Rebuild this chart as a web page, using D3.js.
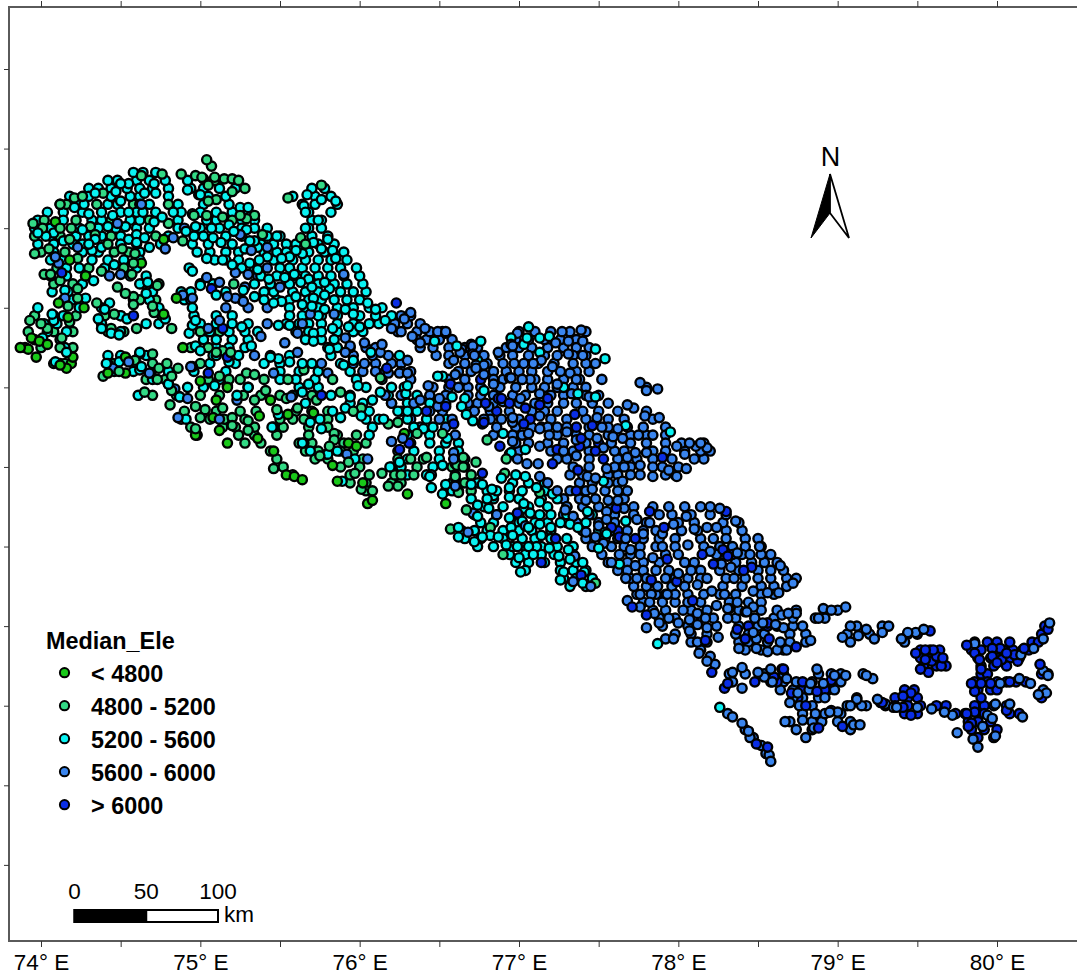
<!DOCTYPE html>
<html>
<head>
<meta charset="utf-8">
<script src="https://cdn.jsdelivr.net/npm/d3@7"></script>
<style>
  html, body { margin: 0; padding: 0; background: #fff; }
  text { font-family: "Liberation Sans", Arial, sans-serif; fill: #000; }
</style>
</head>
<body>
<div class="viz"></div>
<script>
// glacier locations [lon, lat] that sit on top of the pile, one list per class
var below4800 = [[74.09,33.54],[74.28,33.20],[74.63,33.28],[74.77,33.43],[74.18,33.30],[73.92,32.74],[73.87,32.75],[73.97,32.69],[74.04,32.77],[74.20,32.69],[73.94,32.81],[74.11,33.03],[74.17,32.94],[74.27,33.00],[74.85,33.06],[74.77,32.96],[74.53,32.69],[74.53,32.59],[74.42,32.59],[74.89,32.75],[74.16,32.62],[73.99,32.79],[74.12,32.64],[74.19,32.65],[75.00,32.54],[75.17,32.50],[75.10,32.42],[75.08,32.31],[75.12,32.23],[75.36,32.18],[75.46,32.10],[75.44,32.42],[75.55,32.33],[75.71,32.34],[75.37,32.32],[74.97,32.20],[75.17,32.15],[75.54,31.95],[75.64,31.92],[75.59,31.94],[75.93,32.15],[76.28,32.21],[76.02,31.90],[75.86,31.91],[76.08,31.79],[76.05,31.77],[76.30,31.83],[75.83,32.01],[75.98,32.13],[76.54,31.77]];

var from4800 = [[74.12,33.65],[74.76,33.84],[74.88,33.84],[74.63,33.83],[74.26,33.70],[74.21,33.69],[74.39,33.72],[73.95,33.53],[74.01,33.50],[73.96,33.34],[74.12,33.50],[74.19,33.50],[74.31,33.51],[74.34,33.46],[74.18,33.43],[74.42,33.40],[74.51,33.37],[74.59,33.34],[74.05,33.37],[74.23,33.31],[74.06,33.21],[74.38,33.23],[74.58,33.28],[74.57,33.21],[74.80,33.53],[74.89,33.42],[74.96,33.58],[74.97,33.83],[75.04,33.93],[75.07,33.89],[75.02,33.81],[75.09,33.80],[75.15,33.81],[75.24,33.80],[75.28,33.75],[75.20,33.73],[75.20,33.81],[75.09,33.82],[75.01,33.82],[75.05,33.77],[75.10,33.68],[75.05,33.67],[74.95,33.59],[75.04,33.58],[75.14,33.57],[75.25,33.58],[75.34,33.58],[75.29,33.56],[75.39,33.46],[75.21,33.15],[75.76,33.77],[75.55,33.69],[75.66,33.40],[75.63,33.44],
[73.93,32.92],[74.00,32.90],[74.04,32.87],[74.18,32.91],[74.13,32.81],[74.23,33.06],[74.17,33.01],[74.35,33.03],[74.46,32.96],[74.44,32.87],[74.58,33.02],[74.58,33.07],[74.53,33.09],[74.48,33.13],[74.73,33.14],[74.71,32.97],[74.60,32.87],[74.82,32.87],[74.70,33.01],[74.12,33.17],[74.23,33.12],[74.02,33.21],[74.49,32.60],[74.70,32.71],[74.79,32.65],[74.86,32.62],[74.74,32.62],[74.82,32.57],[74.73,32.55],[74.65,32.47],[74.82,32.48],[74.81,32.39],[74.59,32.67],[74.39,32.57],
[74.97,32.38],[75.03,32.36],[74.97,32.24],[75.00,32.31],[75.10,32.72],[75.14,32.73],[75.19,32.72],[75.29,32.59],[75.34,32.58],[75.12,32.57],[75.18,32.55],[75.17,32.51],[75.34,32.42],[75.41,32.48],[75.48,32.36],[75.14,32.37],[75.20,32.31],[75.20,32.26],[75.30,32.29],[75.30,32.23],[75.61,32.37],[75.73,32.42],[75.54,32.43],[75.84,32.17],[75.75,32.07],[75.79,32.08],[75.65,32.15],[75.46,31.99],[75.65,32.61],
[75.88,32.47],[76.01,32.37],[75.96,32.35],[75.84,32.21],[75.81,32.13],[76.18,32.27],[76.24,32.28],[75.93,32.03],[75.97,31.96],[76.14,31.96],[76.26,31.95],[76.18,31.88],[76.24,31.88],[76.32,32.05],[76.42,32.06],[76.61,32.01],[76.65,32.00],[76.73,32.03],[76.01,31.86],[76.62,31.84],[76.36,32.21],[76.92,32.05],[76.60,31.93],[75.83,32.55],[76.13,32.56],[76.65,32.06],[76.60,32.02],[76.60,31.94],[76.91,31.96],[76.80,32.17],[77.13,31.84],[76.52,32.21],[76.57,31.61],[76.82,31.62],[77.48,31.27],[76.90,31.45],[76.67,31.73]];

var from5200 = [[74.50,33.78],[74.55,33.78],[74.62,33.75],[74.71,33.78],[74.65,33.72],[74.72,33.72],[74.34,33.72],[74.47,33.73],[74.50,33.67],[74.27,33.65],[74.21,33.63],[74.30,33.59],[74.38,33.60],[74.45,33.58],[74.55,33.60],[74.64,33.60],[74.83,33.60],[74.76,33.57],[74.71,33.54],[74.42,33.51],[74.26,33.49],[74.53,33.51],[74.47,33.50],[74.60,33.46],[74.65,33.44],[74.55,33.43],[74.60,33.41],[74.30,33.40],[74.34,33.43],[74.38,33.38],[74.32,33.36],[73.98,33.47],[74.03,33.45],[74.08,33.47],[74.14,33.42],[74.68,33.38],[74.91,33.48],[74.92,33.74],[74.99,33.71],[74.46,33.27],[74.24,33.25],[74.93,33.25],
[74.15,33.11],[74.28,33.06],[74.40,32.99],[74.43,33.03],[74.07,32.96],[74.08,32.92],[74.36,32.93],[74.54,32.93],[74.38,32.87],[74.44,32.84],[74.49,32.83],[74.66,32.90],[74.78,32.93],[74.67,33.16],[74.66,33.09],[74.33,33.17],[74.01,32.81],[74.09,32.66],[74.16,32.72],[74.41,32.65],[74.49,32.66],[74.62,32.71],[74.62,32.61],[74.80,32.52],[74.61,32.45],[74.87,32.44],[74.93,32.84],[74.95,32.89],[74.97,32.76],[75.00,33.14],[74.95,33.23],[74.95,33.00],[74.97,32.92],
[75.00,33.71],[75.30,33.63],[75.25,33.63],[74.97,33.51],[75.07,33.50],[75.18,33.52],[75.21,33.48],[75.13,33.41],[75.08,33.44],[75.29,33.49],[75.48,33.45],[75.34,33.42],[75.31,33.42],[75.28,33.37],[75.36,33.38],[75.04,33.31],[75.09,33.30],[75.14,33.30],[75.20,33.27],[75.31,33.28],[75.42,33.32],[75.51,33.31],[75.56,33.32],[75.60,33.36],[75.64,33.34],[75.71,33.41],[75.76,33.37],[75.80,33.43],[75.85,33.31],[75.83,33.36],[75.67,33.71],[75.65,33.64],[75.76,33.68],[75.85,33.67],[75.74,33.55],[75.66,33.50],[75.66,33.60],[75.36,33.24],[75.37,33.30],[75.43,33.18],[75.48,33.20],[75.53,33.19],[75.59,33.21],[75.63,33.16],[75.68,33.18],[75.78,33.16],[75.81,33.12],[75.70,33.13],[75.78,33.08],[75.71,33.06],[75.60,33.07],[75.51,33.04],[75.46,33.03],[75.64,33.02],[75.70,33.01],[75.78,32.99],[75.74,32.95],[75.34,33.07],[75.27,33.11],[75.10,33.08],[75.56,32.89],[76.00,32.88],[75.93,32.88],[75.49,32.89],
[75.00,32.73],[75.10,32.70],[75.18,32.66],[75.32,32.76],[75.26,32.88],[75.44,32.69],[75.49,32.68],[75.56,32.66],[75.64,32.65],[75.71,32.79],[75.71,32.84],[75.81,32.74],[75.83,32.87],[74.80,32.52],[74.87,32.44],[74.91,32.30],[75.09,32.51],[75.30,32.50],[75.23,32.45],[75.49,32.33],[75.45,32.25],[75.68,32.52],[75.64,32.47],[75.83,32.35],[75.69,32.28],[75.75,32.30],[75.76,32.24],[75.64,32.15],[75.69,32.10],[75.80,32.08],[74.63,32.63],[74.62,32.72],
[76.05,33.03],[76.10,32.99],[76.16,32.92],[75.91,32.99],[75.96,32.96],[75.90,32.64],[75.96,32.67],[76.07,32.72],[76.25,32.70],[76.47,32.79],[76.30,32.51],[76.29,32.46],[75.99,32.51],[76.13,32.47],[75.94,32.44],[76.08,32.42],[75.91,32.37],[75.88,32.31],[76.01,32.32],[76.06,32.20],[76.15,32.30],[76.30,32.35],[76.40,32.24],[76.49,32.57],[76.71,32.29],[76.95,32.09],[76.52,32.01],[76.44,31.94],[76.25,32.03],[76.19,32.00],[77.04,31.94],[76.84,31.82],[76.52,31.83],[75.86,32.10],[75.97,32.05],[75.89,31.91],[76.54,31.89],[76.45,31.87],[76.80,31.80],[77.03,31.77],
[77.06,32.88],[77.05,32.81],[77.13,32.81],[77.03,32.77],[77.13,32.72],[77.19,32.82],[76.95,32.81],[76.95,32.77],[77.48,32.74],[77.54,32.68],[77.28,32.50],[77.37,32.46],[77.48,32.44],[77.67,32.26],[77.95,32.22],[77.04,32.11],[76.94,32.08],[76.98,31.95],[76.78,32.48],[76.58,32.44],[76.64,32.38],[76.90,32.21],[76.66,32.43],[76.67,32.33],[76.55,32.18],[76.70,31.89],[76.77,31.89],[76.83,31.86],[76.86,31.85],[76.94,31.87],[77.11,31.87],[77.21,31.83],[77.53,31.91],[76.52,32.57],[76.61,32.76],[76.74,32.67],[76.76,32.79],
[76.94,31.81],[76.81,31.74],[76.74,31.76],[76.74,31.69],[77.03,31.74],[77.07,31.71],[77.13,31.78],[77.13,31.70],[76.94,31.68],[77.02,31.66],[77.06,31.62],[77.13,31.64],[76.95,31.62],[76.87,31.56],[76.82,31.57],[76.77,31.56],[76.72,31.53],[76.62,31.56],[76.62,31.62],[76.96,31.57],[76.92,31.51],[76.99,31.50],[77.00,31.43],[77.06,31.50],[77.11,31.50],[77.14,31.57],[77.20,31.62],[77.19,31.49],[77.25,31.44],[77.31,31.48],[77.28,31.34],[77.26,31.29],[77.41,31.34],[77.40,31.27],[77.40,31.40],[77.32,31.42],[77.09,31.45],[77.26,31.65],[77.32,31.64],[77.43,31.72],[77.37,31.62],[77.55,31.58],[77.50,31.49],[77.01,31.34],[77.67,31.66],[77.63,31.39],[76.89,31.93],[77.54,31.59],[77.87,30.89],[78.26,30.49]];

var from5600 = [[74.48,33.53],[74.63,33.65],[74.23,33.38],[74.09,33.32],[74.11,33.28],[74.83,33.44],[74.78,33.37],[74.89,33.08],[74.94,33.05],[74.15,33.06],[74.45,32.62],[74.55,32.66],[74.69,32.59],[74.94,32.63],[74.50,33.21],[74.43,33.20],[74.84,32.49],
[75.04,33.19],[75.12,33.16],[75.22,33.22],[75.30,33.21],[75.28,33.13],[75.22,33.06],[75.27,33.04],[75.17,33.07],[75.42,33.25],[75.42,33.38],[75.32,33.36],[75.25,33.46],[75.50,33.13],[75.12,32.92],[75.05,32.87],[75.64,32.90],[75.84,32.96],[75.69,32.96],[75.90,33.21],[74.95,33.06],
[74.68,32.59],[74.95,32.63],[74.92,32.43],[74.86,32.31],[75.23,32.42],[75.34,32.70],[75.46,32.59],[75.57,32.44],[75.61,32.72],[75.76,32.65],[75.53,32.78],[75.38,32.82],[75.61,32.84],[75.12,32.30],[75.80,32.59],
[76.28,32.93],[76.20,32.87],[76.26,32.85],[76.32,32.97],[76.41,32.87],[76.49,32.85],[76.54,32.85],[76.38,32.78],[76.33,32.82],[75.91,32.81],[75.94,32.76],[76.03,32.78],[76.14,32.77],[75.91,32.72],[76.13,32.72],[76.03,32.65],[76.10,32.60],[76.18,32.59],[76.25,32.59],[76.30,32.59],[76.30,32.67],[76.43,32.51],[76.62,32.50],[76.50,32.43],[76.38,32.42],[76.49,32.38],[76.71,32.71],[76.63,32.72],[76.71,32.76],[76.73,32.64],[76.78,32.64],[76.84,32.52],[76.94,32.56],[76.96,32.76],[76.96,32.31],[76.27,32.18],[76.20,32.16],[76.05,32.05],[75.92,32.08],[76.45,31.95],[76.59,32.05],[76.60,31.88],
[76.54,32.84],[76.70,32.77],[76.64,32.74],[76.59,32.67],[76.72,32.70],[76.73,32.62],[76.78,32.58],[76.60,32.58],[76.87,32.72],[76.99,32.84],[76.95,32.56],[77.03,32.65],[76.97,32.65],[77.09,32.65],[77.14,32.67],[77.07,32.55],[77.02,32.55],[77.21,32.63],[77.27,32.85],[77.31,32.79],[77.39,32.86],[77.40,32.79],[77.23,32.78],[77.31,32.71],[77.40,32.70],[77.48,32.65],[77.32,32.59],[77.36,32.55],[77.52,32.55],[77.76,32.53],[77.80,32.48],[77.87,32.49],[77.68,32.39],[77.72,32.37],[77.79,32.32],[77.88,32.31],[77.75,32.20],[77.84,32.20],[77.49,32.31],[77.52,32.25],[77.44,32.44],[77.33,32.46],[77.24,32.52],[77.13,32.46],[77.01,32.43],[76.90,32.41],[76.81,32.38],[76.89,32.30],[76.96,32.28],[77.13,32.32],[77.13,32.24],[77.24,32.25],[77.30,32.22],[77.19,32.20],[77.06,32.21],[77.13,32.13],[77.28,32.10],[77.36,32.07],[77.36,32.17],[77.49,32.18],[77.53,32.12],[77.62,32.24],[77.59,32.19],[77.65,32.18],[77.73,32.09],[77.80,32.09],[77.68,32.06],[77.76,32.01],[77.55,31.99],[77.66,32.00],[77.84,31.94],[77.94,31.98],[78.04,32.08],[77.99,32.13],[78.11,32.13],[78.18,32.12],[78.05,31.99],[77.99,31.94],[78.07,32.15],[78.14,32.15],[76.96,32.16],[76.99,32.05],[77.05,32.02],[77.12,32.02],[77.13,31.94],[77.18,31.90],[77.43,31.94],[77.48,31.93],[77.65,31.91],[77.46,31.86],[77.24,31.85],[76.59,32.09],
[76.86,31.70],[77.29,31.73],[77.34,31.69],[77.35,31.44],[77.42,31.79],[77.62,31.79],[77.56,31.79],[77.42,31.59],[77.48,31.56],[77.53,31.52],[77.58,31.40],[77.63,31.45],[77.70,31.48],[77.67,31.30],[77.74,31.30],[77.45,31.25],[77.34,31.28],[77.04,31.63],[76.68,31.59],[76.71,31.71],[77.67,31.55],[77.50,31.63],[77.55,31.72],[77.73,31.38],
[77.66,31.74],[77.55,31.67],[77.74,31.67],[78.05,31.69],[78.20,31.75],[78.26,31.74],[78.36,31.66],[78.18,31.62],[78.24,31.62],[78.10,31.61],[77.97,31.64],[77.90,31.50],[78.06,31.51],[78.20,31.47],[78.51,31.50],[78.45,31.45],[78.37,31.46],[78.27,31.39],[78.35,31.30],[78.33,31.37],[78.58,31.35],[78.64,31.38],[78.72,31.27],[78.63,31.21],[78.56,31.21],[78.47,31.22],[78.18,31.30],[78.21,31.22],[78.29,31.20],[78.37,31.15],[78.47,31.12],[78.31,31.05],[78.43,31.09],[78.47,30.96],[78.56,31.02],[78.65,31.07],[78.69,31.08],[78.74,31.08],[78.66,30.99],[78.78,31.00],[78.83,30.91],[78.62,30.85],[78.68,30.85],[78.49,30.86],[78.56,30.84],[78.38,30.86],[78.34,30.71],[78.40,30.74],[78.50,30.71],[78.58,30.73],[77.84,31.43],[78.00,31.33],[77.92,31.30],[78.12,31.26],[77.87,31.25],[77.83,31.20],[77.93,31.20],[77.76,31.20],[77.82,31.15],[77.76,31.12],[77.68,31.16],[78.03,31.10],[78.12,31.08],[78.00,31.02],[78.07,31.04],[77.94,31.05],[77.85,31.08],[77.88,31.02],[77.80,30.99],[77.97,30.92],[77.92,30.92],[78.07,30.97],[78.12,31.01],[78.18,30.99],[78.25,30.93],[78.12,30.90],[78.13,30.83],[78.18,30.78],[78.23,30.76],[77.82,31.65],[77.90,31.58],[77.78,31.58],
[79.05,31.12],[78.96,31.10],[78.91,31.11],[78.88,31.05],[78.61,31.01],[78.53,31.02],[78.49,30.92],[78.64,30.90],[78.40,30.61],[78.54,30.68],[78.59,30.65],[78.68,30.67],[78.75,30.58],[78.87,30.73],[78.91,30.64],[78.83,30.64],[78.98,30.69],[79.05,30.69],[78.70,30.52],[79.08,31.00],[79.03,30.93],[79.13,30.94],[79.18,30.98],[79.23,30.92],[79.28,30.96],[79.32,31.00],[79.18,30.69],[79.22,30.67],[79.12,30.54],[79.15,30.50],[79.08,30.50],[79.00,30.46],[78.95,30.46],[78.67,30.40],[78.78,30.41],[79.10,30.38],[79.14,30.38],[78.85,30.36],[78.31,30.45],[78.34,30.43],[78.40,30.39],[78.44,30.34],[78.45,30.30],[78.57,30.19],[78.58,30.15],[79.37,30.49],[79.25,30.54],[78.31,31.11],[78.24,31.13],[78.17,31.05],[78.20,30.81],
[79.44,30.96],[79.49,30.96],[79.54,30.98],[79.40,30.92],[80.33,31.02],[80.29,30.92],[80.23,30.86],[80.15,30.82],[79.86,30.89],[80.21,30.64],[80.14,30.67],[80.02,30.64],[79.50,30.49],[79.59,30.48],[79.67,30.46],[79.72,30.44],[79.99,30.51],[80.08,30.51],[80.16,30.43],[79.75,30.33],[79.85,30.29],[79.88,30.24],[79.99,30.31],[79.94,30.44],[80.29,30.60],[80.26,30.57],[80.31,30.58],[80.32,30.69],[80.29,30.72],[79.30,30.51],[79.91,30.37],[79.97,30.42],[79.35,30.49]];

var above6000 = [[75.07,33.12],[75.14,32.87],[74.13,33.22],[74.58,32.95],[75.05,32.59],[75.76,32.45],[75.17,32.69],[76.23,33.03],[76.17,32.62],[76.57,32.52],[76.42,32.35],[76.54,32.38],[76.59,32.27],[76.88,32.13],[76.77,31.96],[76.31,32.15],[76.78,32.28],[76.79,32.40],[76.94,32.40],[77.04,32.37],[76.76,32.55],[76.89,32.43],[76.25,32.11],[76.77,32.27],[77.13,32.39],[77.18,32.43],[77.07,32.30],[77.03,32.27],[77.35,32.33],[77.36,32.25],[77.46,32.26],[77.39,32.18],[77.38,32.13],[77.24,32.11],[77.53,32.05],[77.48,32.10],[77.90,32.06],[77.21,32.02],[77.37,31.98],[77.36,31.85],[76.87,32.43],
[77.23,31.55],[77.14,31.40],[77.39,31.32],[77.61,31.74],[77.63,31.56],[77.73,31.55],[76.99,31.71],[77.58,31.62],[77.82,31.72],[77.91,31.62],[78.30,31.72],[78.28,31.48],[78.15,31.45],[78.22,31.39],[78.41,31.35],[78.46,31.37],[78.31,31.44],[77.93,31.42],[77.99,31.28],[77.83,31.29],[78.09,31.16],[77.71,31.12],[77.80,31.07],[78.32,31.11],[78.42,31.09],[78.37,30.98],[78.57,30.92],[78.74,30.87],[78.17,30.91],[78.21,30.71],[78.65,30.73],
[78.56,31.02],[78.42,30.92],[78.66,30.73],[78.71,30.58],[78.96,30.66],[78.87,30.59],[78.80,30.50],[79.03,30.37],[78.96,30.47],[78.88,30.36],[78.29,30.61],[78.49,30.26],[78.56,30.24],[78.60,30.68],[79.27,30.52],[78.31,30.64],
[80.32,30.98],[79.58,30.97],[79.49,30.83],[79.55,30.85],[79.60,30.85],[79.62,30.81],[79.66,30.80],[79.55,30.79],[79.59,30.78],[79.65,30.75],[79.52,30.73],[79.57,30.71],[79.81,30.88],[79.89,30.79],[79.86,30.83],[79.97,30.81],[80.02,30.86],[80.06,30.83],[80.03,30.79],[80.11,30.82],[80.13,30.78],[80.17,30.86],[80.27,30.76],[79.90,30.73],[79.84,30.64],[79.90,30.64],[79.96,30.64],[79.86,30.59],[80.08,30.65],[79.46,30.58],[79.41,30.56],[79.41,30.49],[79.46,30.44],[79.28,30.52],[79.81,30.45],[79.86,30.46],[80.06,30.47],[79.84,30.39],[79.82,30.37],[79.97,30.86],[80.00,30.77]];

// glaciers mostly buried under the ones above: rows of [lat, lon, lon, ...]
var buried4800 = [
[33.65,74.16,74.35,74.58,74.80],[33.55,74.02,74.22,74.44,74.68,75.20],[33.45,73.96,74.12,74.44,74.72],[33.35,74.00,74.15,74.46,74.55],[33.25,74.10,74.30,74.52],[33.15,74.08,74.20,74.64,74.74],[33.05,74.14,74.24,74.62,74.72],
[32.95,73.96,74.08,74.22,74.40,74.50,74.76],[32.85,73.92,74.08,74.20,74.42,74.52,75.00,75.12],[32.75,73.90,74.00,74.12,74.20,74.94,75.05],[32.65,74.08,74.15,74.45,74.70,75.00],[32.55,74.66,74.78,75.05,75.25,75.40,75.55],[32.45,74.70,74.85,75.00,75.12,75.27,75.38,75.50,75.70],
[32.35,74.90,75.10,75.25,75.35,75.60,75.70,75.80],[32.30,74.88,75.06,75.15,75.28,75.50,75.58,75.65,75.80],[32.25,74.94,75.14,75.22,75.34,75.46,75.52,75.68,75.80],[32.20,74.98,75.24,75.34,75.48,75.68,75.86,75.98],[32.15,75.28,75.38,75.62,75.70,75.90,76.04],[32.10,75.44,75.66,75.74,75.88,75.96],[32.05,75.48,75.72,75.80,75.94,76.02,76.24,76.40],[32.00,75.52,75.88,76.00,76.20,76.36,76.58],[31.95,75.58,75.94,76.06,76.22,76.34,76.60,76.70],[31.90,75.94,76.04,76.20,76.26,76.58,76.66],[31.85,76.04,76.08,76.54,76.62,76.70]];

var buried5200 = [
[33.85,74.58,74.64,74.72],[33.80,74.42,74.48,74.60,74.68,74.78,74.92],[33.75,74.30,74.36,74.44,74.54,74.70,74.80,74.94,75.02,75.12,75.22,75.70,75.78],[33.70,74.18,74.30,74.44,74.56,74.62,74.80,75.05,75.16,75.58,75.72,75.82],[33.65,74.12,74.24,74.42,74.48,74.62,74.68,74.86,75.02,75.18,75.64,75.72,75.86],[33.60,74.04,74.14,74.26,74.50,74.60,74.72,74.88,75.00,75.10,75.20,75.30,75.68,75.82],[33.55,73.98,74.14,74.32,74.38,74.56,74.62,74.86,75.04,75.10,75.26,75.34,75.70,75.76],[33.50,73.96,74.06,74.24,74.36,74.60,74.68,74.86,75.00,75.12,75.26,75.34,75.42,75.68,75.76],[33.45,74.06,74.22,74.30,74.38,74.50,74.80,74.96,75.02,75.16,75.26,75.42,75.50,75.70,75.80],[33.40,73.98,74.08,74.20,74.26,74.50,74.60,74.75,74.95,75.05,75.20,75.38,75.46,75.54,75.60,75.74,75.84],[33.35,74.08,74.26,74.36,74.62,74.98,75.06,75.16,75.24,75.40,75.48,75.54,75.68,75.78,75.90],[33.30,74.06,74.14,74.32,74.42,74.52,74.62,75.16,75.24,75.46,75.58,75.66,75.74,75.82,75.92],[33.25,74.16,74.40,74.60,75.26,75.34,75.50,75.56,75.64,75.72,75.80,75.88,75.98],[33.20,74.06,74.16,74.28,74.56,74.66,75.38,75.58,75.66,75.74,75.82,75.90,76.00],[33.15,74.26,74.62,75.00,75.08,75.34,75.44,75.56,75.74,75.84,75.92,76.02],[33.10,74.07,74.17,74.70,74.88,74.94,75.16,75.40,75.46,75.58,75.66,75.74,75.88,75.96,76.04],[33.05,74.20,74.58,74.68,74.90,75.40,75.48,75.56,75.68,75.76,75.84,75.92,76.00],[33.00,73.98,74.24,74.38,74.74,75.56,75.66,75.74,75.86,75.96,76.06,76.14],
[32.95,74.14,74.50,74.96,75.10,75.20,75.56,75.64,75.76,75.86,76.00,76.10,76.20],[32.90,74.02,74.10,74.38,74.74,75.00,75.10,75.20,75.30,75.54,75.62,75.68,75.76,75.86,75.96,76.06,76.12],[32.85,74.04,74.16,74.50,75.06,75.18,75.28,75.36,75.60,75.68,75.76,75.86,75.96,76.02],[32.80,73.96,74.12,75.02,75.10,75.20,75.30,75.66,75.76,75.84],[32.75,74.15,75.10,75.18,75.28,75.80,75.86],[32.70,74.42,74.50,74.66,75.08,75.24,75.44,75.56,75.82],[32.65,74.12,74.42,74.60,75.06,75.22,75.40,75.50,75.70,75.88],[32.60,74.46,74.58,74.80,74.96,75.16,75.50,75.62,75.74,75.94],[32.55,74.70,75.12,75.50,75.60,75.72,75.98,76.14],[32.50,74.92,75.02,75.30,75.62,75.74,76.04,76.20,76.28],[32.45,75.58,75.82,75.94,76.18,76.36],[32.40,75.66,75.94,76.02,76.20,76.30,76.44],[32.35,75.96,76.06,76.24,76.36],[32.30,76.04,76.12,76.30,76.42,76.54],[32.25,76.08,76.34,76.46],[32.20,76.30,76.44],[32.15,76.32,76.44,76.54,76.62],[32.10,76.24,76.34,76.50,76.62],[32.05,76.30,76.50,76.66],[32.00,76.26,76.46,76.66],[31.95,76.30,76.42],
[31.90,76.60,76.74,76.96,77.06,77.16],[31.85,76.58,76.80,76.94,77.02,77.16],[31.80,76.70,76.84,77.00,77.14,77.24],[31.75,76.78,76.90,77.06,77.18,77.30],[31.70,76.72,76.86,77.00,77.20,77.30,77.46],[31.65,76.76,76.84,77.00,77.10,77.18,77.30,77.42],[31.60,76.64,76.72,76.80,76.90,77.00,77.08,77.20,77.40,77.50],[31.55,76.66,76.76,76.90,77.02,77.10,77.20,77.30],[31.50,76.74,76.84,76.96,77.04,77.14,77.24,77.34],[31.45,76.94,77.04,77.14,77.22,77.34],[31.40,76.98,77.06,77.16,77.26,77.36],[31.35,77.04,77.26,77.34,77.42],[31.30,77.28,77.36,77.46],[31.25,77.32,77.42]];

var buried5600 = [
[33.50,74.90],[33.20,75.36],[33.05,75.26],[33.00,75.16,75.30,75.42],[32.90,75.42],[32.75,75.94,76.04,76.10],[32.70,75.96,76.08,76.18],[32.65,75.96,76.10,76.20,76.26],[32.60,76.02,76.16,76.26,76.32],[32.55,76.32],
[32.95,76.26,76.32],[32.90,76.22,76.30,76.38],[32.85,76.24,76.36,76.44,76.52],[32.80,76.36,76.42,76.50,76.58,76.98,77.06,77.16,77.26,77.36],[32.85,77.00,77.10,77.20,77.32,77.42],[32.75,76.38,76.46,76.56,76.66,76.74,76.92,77.00,77.08,77.18,77.28,77.36,77.44],[32.70,76.48,76.56,76.66,76.78,76.88,76.96,77.06,77.16,77.24,77.34,77.42],[32.65,76.56,76.66,76.80,76.90,77.12,77.22,77.34,77.42],[32.60,76.62,76.70,76.84,76.92,77.00,77.08,77.18,77.26,77.36,77.44],[32.55,76.56,76.66,76.84,76.90,77.10,77.18,77.28,77.38],[32.50,76.46,76.56,76.68,76.76,76.88,76.98,77.08,77.16,77.24,77.34,77.42,77.80],[32.45,76.16,76.26,76.44,76.54,76.68,76.76,76.84,76.96,77.04,77.20,77.28,77.42,77.50],[32.40,76.20,76.34,76.46,76.54,76.68,76.74,76.84,77.00,77.10,77.18,77.28,77.36,77.46,77.56],[32.35,76.26,76.44,76.52,76.72,76.82,76.94,77.08,77.16,77.24,77.40,77.50,77.62,77.80],[32.30,76.32,76.50,76.58,76.78,76.82,77.00,77.20,77.30,77.42,77.56,77.66,77.84],[32.25,76.38,76.54,76.86,76.98,77.08,77.18,77.30,77.44,77.56,77.68,77.78,77.92],[32.20,76.60,76.84,76.96,77.02,77.24,77.36,77.44,77.56,77.70,77.80,77.92],[32.15,76.98,77.06,77.18,77.28,77.42,77.58,77.70,77.80,77.92,78.02,78.16],[32.10,77.00,77.20,77.34,77.44,77.60,77.66,77.84,77.92,78.04,78.14,78.20],[32.05,77.24,77.30,77.44,77.62,77.74,77.84,77.96,78.10,78.16],[32.00,77.34,77.44,77.60,77.70,77.84,77.90,78.00],[31.95,77.32,77.40,77.56,77.62,77.70,77.76,77.92,77.98],[31.90,77.38,77.46,77.56,77.62],[31.85,77.32,77.42,77.54,77.62,77.68],[31.80,77.28,77.38,77.48,77.66],[31.75,77.30,77.40,77.50,77.58,77.72,77.84,77.94,78.04,78.14],[31.70,77.28,77.44,77.60,77.72,77.88,77.96,78.08,78.20,78.30],[31.65,77.36,77.50,77.60,77.80,78.00,78.10,78.28,78.38],[31.60,77.40,77.58,77.68,77.78,77.86,78.02,78.12,78.30,78.40],[31.55,77.42,77.54,77.62,77.78,77.88,77.98,78.14,78.22,78.30,78.42,78.50],[31.50,77.46,77.58,77.66,77.76,77.86,77.98,78.16,78.26,78.34,78.42,78.52],[31.45,77.52,77.70,77.76,77.92,78.00,78.24,78.40,78.52,78.58],[31.40,77.56,77.68,77.78,77.88,78.04,78.10,78.26,78.36,78.46,78.54,78.62],[31.35,77.62,77.68,77.78,77.86,77.94,78.08,78.14,78.26,78.38,78.50,78.66],[31.30,77.70,77.80,77.98,78.06,78.14,78.30,78.42,78.50,78.58,78.68,78.74],[31.25,77.72,77.80,77.96,78.04,78.28,78.40,78.52,78.60,78.68],[31.20,77.74,77.86,77.98,78.06,78.16,78.26,78.36,78.52,78.60],[31.15,77.78,77.90,77.98,78.06,78.14,78.32,78.44,78.52],[31.10,77.84,77.92,78.08,78.18,78.38,78.52,78.62,78.74,79.00],[31.05,77.88,77.98,78.12,78.22,78.36,78.48,78.60,78.72,78.86,78.92],[31.00,77.90,78.06,78.24,78.38,78.50,78.62,78.72,79.12,79.28],[30.95,77.98,78.08,78.18,78.36,78.44,78.54,78.70,78.80,79.06,79.20,79.44],[30.90,78.08,78.18,78.38,78.44,78.56,78.70,78.80,79.08,79.42],[30.85,78.14,78.42,78.52,78.66],
[30.70,78.32,78.42,78.54,78.66,78.88,78.96,79.02,79.16],[30.65,78.34,78.58,78.66,78.74,78.84,78.96,79.02],[30.60,78.64,78.72,78.82,78.94,78.98],[30.55,78.72,78.78,78.88,78.92,79.12],[30.50,78.76,78.84,79.06,79.18],[30.45,78.78,78.86,78.92,79.02],[30.40,78.70,78.84,78.90,79.00,79.08],[30.35,78.42,78.74,78.84,79.08],[30.30,78.47,78.80],[30.25,78.52],[30.20,78.55]];

var buried6000 = [
[32.55,77.02],[32.35,76.86],[32.25,77.14],[32.15,77.50],[31.60,77.62],[31.45,78.34],[31.20,77.92],[31.00,78.44,78.56],[30.65,78.48,78.62,78.78],[30.60,78.78,78.92],[30.55,78.75],
[31.00,80.30],[30.95,80.28,79.50],[30.90,79.86,79.94,80.00,80.08,80.22,80.26],[30.85,79.52,79.58,79.64,79.84,79.90,80.04,80.10,80.16,80.20],[30.80,79.52,79.58,79.64,79.88,79.96,80.00,80.08,80.14],[30.75,79.54,79.62,79.68,79.90,79.98,80.06],[30.70,79.90,79.94,80.28,80.32],[30.65,79.86,79.94,80.00,80.06,80.12,80.18],[30.60,79.88,79.96,80.00,79.42,79.48],[30.55,79.36,79.44,79.50,79.90,80.28],[30.50,79.30,79.36,79.44,79.52,79.62,79.68,79.86,79.92,79.98,80.06],[30.45,79.42,79.50,79.74,79.80,79.88,79.92,80.08,80.14],[30.40,79.82,79.88,79.96],[30.35,79.84,79.92,80.00],[30.30,79.88,79.98]];

var classNames = ["< 4800", "4800 - 5200", "5200 - 5600", "5600 - 6000", "> 6000"];
var classColors = ["#19c819", "#33d985", "#0af2f2", "#3a85ee", "#0a2ee6"];
var classPoints = [below4800, from4800, from5200, from5600, above6000];
var classBuried = [[], buried4800, buried5200, buried5600, buried6000];

var xTicks = d3.range(74, 80.5, 0.5);
var yTicks = d3.range(29.5, 35, 0.5);
var barKm = [0, 50, 100];

var width = 1077, height = 976;

var svg = d3.select(".viz")
.append("svg")
    .attr("width", width)
    .attr("height", height)
    .style("display", "block");

var x = d3.scaleLinear().domain([74, 80]).range([41, 997]);
var y = d3.scaleLinear().domain([30, 34.5]).range([785.3, 69]);

var frame = {left: 9, right: 1077, top: 7, bottom: 941};

svg.append("rect")
    .attr("x", frame.left)
    .attr("y", frame.top)
    .attr("width", frame.right - frame.left + 2)
    .attr("height", frame.bottom - frame.top)
    .attr("fill", "none")
    .attr("stroke", "#5a5a5a")
    .attr("stroke-width", 2);

var xBottom = d3.axisBottom(x).tickValues(xTicks).tickSize(6)
    .tickFormat(d => d % 1 === 0 ? d + "° E" : "");
var xTop = d3.axisTop(x).tickValues(xTicks).tickSize(6).tickFormat("");
var yLeft = d3.axisLeft(y).tickValues(yTicks).tickSize(5).tickFormat("");

svg.append("g").attr("transform", "translate(0," + frame.bottom + ")").call(xBottom)
    .call(g => g.selectAll("text").attr("y", 13).style("font-size", "22.5px")
        .style("font-family", '"Liberation Sans", Arial, sans-serif'));
svg.append("g").attr("transform", "translate(0," + frame.top + ")").call(xTop);
svg.append("g").attr("transform", "translate(" + frame.left + ",0)").call(yLeft);
svg.selectAll(".domain").remove();
svg.selectAll(".tick line").attr("stroke", "#333");

// merge the classes, then a fixed mixing order so they overlap like the map does
var mixKey = d => (Math.round(d.lon * 100) * 31 + Math.round(d.lat * 100) * 17) % 97;

var buried = [];
classBuried.forEach((rows, i) => rows.forEach(r => r.slice(1).forEach(lon => buried.push({lon: lon, lat: r[0], cls: i}))));
buried.sort((a, b) => mixKey(a) - mixKey(b));

var points = [];
classPoints.forEach((list, i) => list.forEach(p => points.push({lon: p[0], lat: p[1], cls: i})));
points.sort((a, b) => mixKey(a) - mixKey(b));

svg.append("g").selectAll("circle")
    .data(buried.concat(points))
    .join("circle")
    .attr("cx", d => x(d.lon))
    .attr("cy", d => y(d.lat))
    .attr("r", 4.6)
    .attr("fill", d => classColors[d.cls])
    .attr("stroke", "#000")
    .attr("stroke-width", 2.4);

// legend
var legend = svg.append("g");
legend.append("text")
    .attr("x", 46).attr("y", 649)
    .style("font-size", "23.4px").style("font-weight", "bold")
    .text("Median_Ele");

var legendY = d3.scalePoint().domain(classNames).range([672.7, 804.7]);
classNames.forEach((name, i) => {
    legend.append("circle")
        .attr("cx", 64.5).attr("cy", legendY(name))
        .attr("r", 4.6)
        .attr("fill", classColors[i])
        .attr("stroke", "#000")
        .attr("stroke-width", 2);
    legend.append("text")
        .attr("x", 91).attr("y", legendY(name) + 8.8)
        .style("font-size", "23.4px").style("font-weight", "bold")
        .text(name);
});

// scale bar
var bar = d3.scaleLinear().domain([0, 100]).range([74.5, 218]);
svg.append("rect")
    .attr("x", bar(0)).attr("y", 910)
    .attr("width", bar(100) - bar(0)).attr("height", 12)
    .attr("fill", "#fff").attr("stroke", "#000").attr("stroke-width", 2);
svg.append("rect")
    .attr("x", bar(0)).attr("y", 910)
    .attr("width", bar(50) - bar(0)).attr("height", 12)
    .attr("fill", "#000").attr("stroke", "#000").attr("stroke-width", 2);
svg.selectAll(".bar-label")
    .data(barKm)
    .join("text")
    .attr("class", "bar-label")
    .attr("x", d => bar(d))
    .attr("y", 899)
    .attr("text-anchor", "middle")
    .style("font-size", "22.5px")
    .text(d => d);
svg.append("text").attr("x", 224).attr("y", 922).style("font-size", "22.5px").text("km");

// north arrow
var north = svg.append("g");
north.append("text")
    .attr("x", 830.5).attr("y", 166)
    .attr("text-anchor", "middle")
    .style("font-size", "27px")
    .text("N");
north.append("path")
    .attr("d", "M830,174L811,238L830,213Z")
    .attr("fill", "#000").attr("stroke", "#000").attr("stroke-width", 1);
north.append("path")
    .attr("d", "M830,174L849,238L830,213Z")
    .attr("fill", "#fff").attr("stroke", "#000").attr("stroke-width", 1.8);
</script>
</body>
</html>
